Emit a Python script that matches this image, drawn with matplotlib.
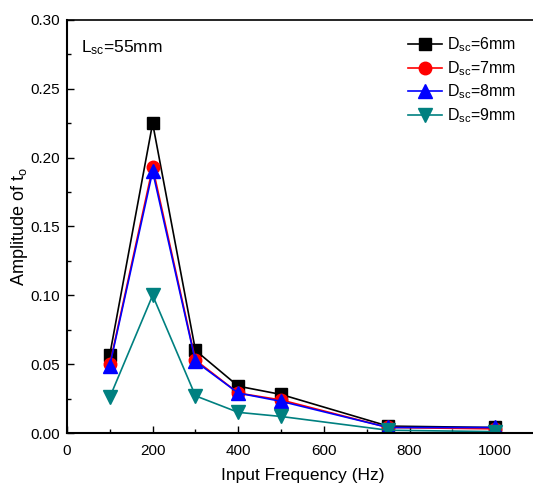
import numpy as np
import matplotlib
matplotlib.use('Agg')
import matplotlib.pyplot as plt
from matplotlib.ticker import MultipleLocator

plt.rcParams['font.family'] = ['Liberation Sans', 'DejaVu Sans']
plt.rcParams['mathtext.default'] = 'regular'

# Data
freq = [100, 200, 300, 400, 500, 750, 1000]
amp_d6 = [0.057, 0.225, 0.060, 0.034, 0.028, 0.005, 0.004]
amp_d7 = [0.050, 0.193, 0.053, 0.029, 0.024, 0.004, 0.003]
amp_d8 = [0.049, 0.190, 0.052, 0.029, 0.023, 0.004, 0.004]
amp_d9 = [0.026, 0.100, 0.027, 0.015, 0.012, 0.002, 0.001]

labels = ['$D_{sc}$=6mm', '$D_{sc}$=7mm', '$D_{sc}$=8mm', '$D_{sc}$=9mm']

fig = plt.figure(figsize=(5.33, 4.86), dpi=100)
ax = fig.add_axes([67 / 533, 1 - 433 / 486, 471 / 533, 413 / 486])

ax.plot(freq, amp_d6, color='black', marker='s', ms=9, lw=1.2, label=labels[0])
ax.plot(freq, amp_d7, color='red', marker='o', ms=9, lw=1.2, label=labels[1])
ax.plot(freq, amp_d8, color='blue', marker='^', ms=9.5, lw=1.2, label=labels[2])
ax.plot(freq, amp_d9, color='#008080', marker='v', ms=9.5, lw=1.2, label=labels[3])

ax.set_xlim(0, 1100)
ax.set_ylim(0, 0.30)
ax.xaxis.set_major_locator(MultipleLocator(200))
ax.xaxis.set_minor_locator(MultipleLocator(100))
ax.yaxis.set_major_locator(MultipleLocator(0.05))
ax.yaxis.set_minor_locator(MultipleLocator(0.025))
ax.set_xticks([0, 200, 400, 600, 800, 1000])
ax.set_yticklabels(['%.2f' % v for v in ax.get_yticks()])

ax.tick_params(which='both', direction='in', labelsize=11)
ax.tick_params(which='major', length=5, width=1)
ax.tick_params(which='minor', length=3, width=1)
ax.tick_params(axis='x', which='major', pad=8)
ax.tick_params(axis='y', which='major', pad=5)
for s in ['left', 'bottom']:
    ax.spines[s].set_linewidth(1.5)
ax.spines['top'].set_linewidth(1.2)
ax.spines['right'].set_visible(False)

ax.set_xlabel('Input Frequency (Hz)', fontsize=12.5, labelpad=7)
ax.set_ylabel('Amplitude of $t_o$', fontsize=13, labelpad=0)

ax.text(0.03, 0.955, '$L_{sc}$=55mm', transform=ax.transAxes, fontsize=12.5, va='top')

ax.legend(loc='upper right', bbox_to_anchor=(0.975, 0.985), frameon=False, fontsize=11.5,
          handlelength=2.1, handletextpad=0.35, labelspacing=0.3, borderaxespad=0.2)

fig.savefig('out.png', dpi=100)
